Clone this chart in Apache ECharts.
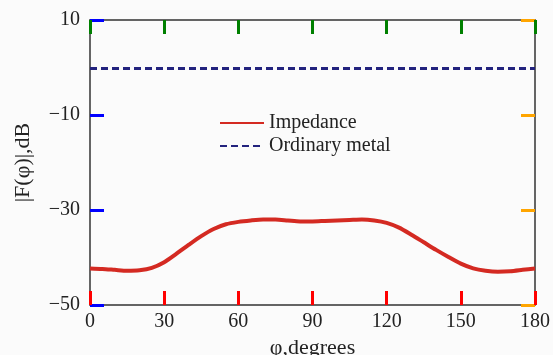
<!DOCTYPE html>
<html>
<head>
<meta charset="utf-8">
<script src="https://cdn.jsdelivr.net/npm/echarts@6/dist/echarts.min.js"></script>
<style>
  html, body { margin: 0; padding: 0; background: #fbfbfb; }
  #main { width: 553px; height: 355px; }
</style>
</head>
<body>
<div id="main"></div>
<script>
// angle in degrees
const phi = [0, 5, 10, 15, 20, 25, 30, 35, 40, 45, 50, 55, 60, 65, 70, 75, 80, 85, 90,
  95, 100, 105, 110, 115, 120, 125, 130, 135, 140, 145, 150, 155, 160, 165, 170, 175, 180];
// |F(phi)| in dB
const impedance = [-42.3, -42.4, -42.6, -42.8, -42.7, -42.2, -41.0, -39.2, -37.3, -35.5,
  -34.0, -33.0, -32.5, -32.2, -32.0, -32.0, -32.2, -32.4, -32.4, -32.3, -32.2, -32.1,
  -32.0, -32.2, -32.7, -33.7, -35.2, -36.8, -38.4, -39.9, -41.3, -42.3, -42.8, -43.0,
  -42.9, -42.6, -42.3];
const metal = [-0.2, -0.2];
const metalX = [0, 180];

const xRange = [0, 180];
const yRange = [-50, 10];

const font = 'Liberation Serif';
const axisColor = '#333';

const chart = echarts.init(document.getElementById('main'));

function minus(v) {
  return String(v).replace('-', '\u2212');
}

function axLine() {
  return { show: true, onZero: false, lineStyle: { color: axisColor, width: 1.5 } };
}
function tick(c) {
  return { show: true, inside: true, length: 14, lineStyle: { color: c, width: 3 } };
}

chart.setOption({
  backgroundColor: '#fbfbfb',
  animation: false,
  grid: { left: 90, right: 18, top: 20, bottom: 50, outerBoundsMode: 'none' },
  legend: {
    orient: 'vertical',
    left: 214,
    top: 108,
    itemWidth: 44,
    itemHeight: 10,
    itemGap: 3,
    itemStyle: { opacity: 0 },
    textStyle: { fontFamily: font, fontSize: 20, color: '#222' },
    data: ['Impedance', 'Ordinary metal']
  },
  xAxis: [{
    type: 'value',
    min: xRange[0], max: xRange[1], interval: 30,
    name: '\u03c6,degrees',
    nameLocation: 'middle',
    nameGap: 31,
    nameTextStyle: { fontFamily: font, fontSize: 22, color: '#222' },
    axisLine: axLine(),
    axisTick: tick('red'),
    axisLabel: { fontFamily: font, fontSize: 20, color: '#222', margin: 7 },
    splitLine: { show: false }
  }, {
    type: 'value', position: 'top',
    min: xRange[0], max: xRange[1], interval: 30,
    axisLine: axLine(),
    axisTick: tick('green'),
    axisLabel: { show: false },
    splitLine: { show: false }
  }],
  yAxis: [{
    type: 'value',
    min: yRange[0], max: yRange[1], interval: 20,
    name: '|F(\u03c6)|,dB',
    nameLocation: 'middle',
    nameGap: 56,
    nameRotate: 90,
    nameTextStyle: { fontFamily: font, fontSize: 22, color: '#222' },
    axisLine: axLine(),
    axisTick: tick('blue'),
    axisLabel: { fontFamily: font, fontSize: 20, color: '#222', margin: 10, formatter: minus },
    splitLine: { show: false }
  }, {
    type: 'value', position: 'right',
    min: yRange[0], max: yRange[1], interval: 20,
    axisLine: axLine(),
    axisTick: tick('orange'),
    axisLabel: { show: false },
    splitLine: { show: false }
  }],
  series: [{
    name: 'Impedance',
    type: 'line',
    smooth: 0.25,
    symbol: 'none',
    data: phi.map((x, i) => [x, impedance[i]]),
    lineStyle: { color: '#d42a22', width: 4 },
    itemStyle: { color: '#d42a22' }
  }, {
    name: 'Ordinary metal',
    type: 'line',
    symbol: 'none',
    data: metalX.map((x, i) => [x, metal[i]]),
    lineStyle: { color: '#23237e', width: 3, type: [7, 4] },
    itemStyle: { color: '#23237e' }
  }]
});
</script>
</body>
</html>
